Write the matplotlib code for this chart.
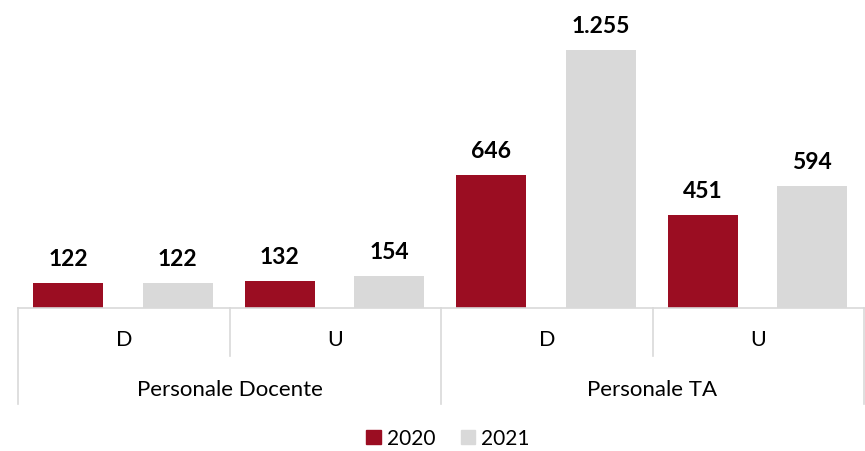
import matplotlib.pyplot as plt
from matplotlib.patches import Patch

groups = ["Personale Docente", "Personale TA"]
subcats = ["D", "U", "D", "U"]
val_2020 = [122, 132, 646, 451]
val_2021 = [122, 154, 1255, 594]
labels_2020 = ["122", "132", "646", "451"]
labels_2021 = ["122", "154", "1.255", "594"]

RED = "#9b0d22"
GREY = "#d9d9d9"
LINE = "#d9d9d9"
FONT = "Lato"

fig = plt.figure(figsize=(8.65, 4.52), dpi=100)
ax = fig.add_axes([18 / 865, 1 - 309 / 452, (864 - 18) / 865, 309 / 452])

x = list(range(len(subcats)))
w = 0.33
xr = [i - 0.262 for i in x]
xg = [i + 0.255 for i in x]
ax.bar(xr, val_2020, width=w, color=RED)
ax.bar(xg, val_2021, width=w, color=GREY)

for xi, v, t in zip(xr, val_2020, labels_2020):
    ax.text(xi, v + 68, t, ha="center", va="bottom", fontsize=16.5,
            fontweight="bold", family=FONT)
for xi, v, t in zip(xg, val_2021, labels_2021):
    ax.text(xi, v + 68, t, ha="center", va="bottom", fontsize=16.5,
            fontweight="bold", family=FONT)

ax.set_xlim(-0.5, len(subcats) - 0.5)
ax.set_ylim(0, 1503)
ax.axis("off")

tr = ax.get_xaxis_transform()
# baseline
ax.plot([-0.5, 3.5], [0, 0], color=LINE, lw=1.2, transform=tr, clip_on=False)
# separators
for xs in [-0.5, 1.5, 3.5]:
    ax.plot([xs, xs], [0, -0.311], color=LINE, lw=1.2, transform=tr, clip_on=False)
for xs in [0.5, 2.5]:
    ax.plot([xs, xs], [0, -0.155], color=LINE, lw=1.2, transform=tr, clip_on=False)

for i, s in enumerate(subcats):
    ax.text(i, -0.10, s, ha="center", va="center", fontsize=15.5,
            family=FONT, transform=tr)
for j, g in enumerate(groups):
    ax.text(2 * j + 0.5, -0.262, g, ha="center", va="center", fontsize=16,
            family=FONT, transform=tr)

handles = [Patch(color=RED, label="2020"), Patch(color=GREY, label="2021")]
fig.legend(handles=handles, loc="center", bbox_to_anchor=(0.518, 0.028),
           ncol=2, frameon=False, prop={"family": FONT, "size": 15},
           handlelength=0.7, handleheight=0.7, handletextpad=0.3,
           columnspacing=1.2)

fig.savefig("out.png", dpi=100)
